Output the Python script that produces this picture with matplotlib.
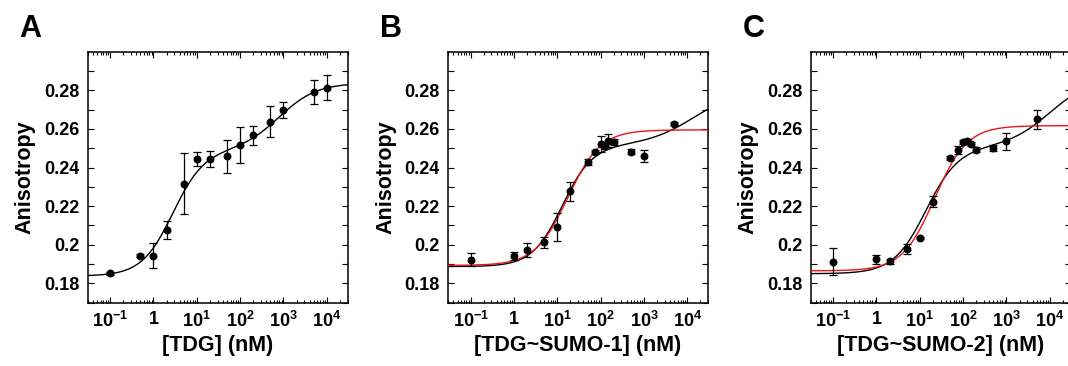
import numpy as np
import matplotlib
matplotlib.use("Agg")
import matplotlib.pyplot as plt
from matplotlib.ticker import FixedLocator, LogLocator, NullFormatter, FixedFormatter

plt.rcParams['font.family'] = ['Liberation Sans', 'DejaVu Sans']
plt.rcParams['font.weight'] = 'bold'
plt.rcParams['mathtext.fontset'] = 'custom'
plt.rcParams['mathtext.rm'] = 'Liberation Sans:bold'
plt.rcParams['mathtext.it'] = 'Liberation Sans:bold'
plt.rcParams['mathtext.bf'] = 'Liberation Sans:bold'

# Datos (concentracion en nM, anisotropia, error)
conc_a = [0.1, 0.5, 1, 2, 5, 10, 20, 50, 100, 200, 500, 1000, 5000, 10000]
aniso_a = [0.1852, 0.1943, 0.1943, 0.2076, 0.2317, 0.2445, 0.2445, 0.2459,
           0.2517, 0.2566, 0.2638, 0.2698, 0.2790, 0.2814]
err_a = [0.0006, 0.0008, 0.0065, 0.0048, 0.0157, 0.0035, 0.0040, 0.0086,
         0.0095, 0.0050, 0.0081, 0.0042, 0.0061, 0.0065]

conc_b = [0.1, 1, 2, 5, 10, 20, 50, 75, 100, 125, 150, 200, 500, 1000, 5000]
aniso_b = [0.1923, 0.1942, 0.1974, 0.2012, 0.2092, 0.2277, 0.2428, 0.2480,
           0.2523, 0.2514, 0.2540, 0.2531, 0.2483, 0.2461, 0.2628]
err_b = [0.0035, 0.0020, 0.0035, 0.0030, 0.0070, 0.0050, 0.0015, 0.0010,
         0.0040, 0.0020, 0.0035, 0.0015, 0.0012, 0.0030, 0.0008]

conc_c = [0.1, 1, 2, 5, 10, 20, 50, 75, 100, 125, 150, 200, 500, 1000, 5000]
aniso_c = [0.1912, 0.1924, 0.1914, 0.1978, 0.2035, 0.2224, 0.2450, 0.2492,
           0.2531, 0.2538, 0.2523, 0.2493, 0.2502, 0.2535, 0.2649]
err_c = [0.0070, 0.0025, 0.0012, 0.0025, 0.0005, 0.0030, 0.0012, 0.0020,
         0.0010, 0.0010, 0.0010, 0.0015, 0.0015, 0.0042, 0.0047]

# Parametros de ajuste: y0, A1, K1, n1, A2, K2, n2
ajuste_a_negro = [0.1838, 0.065, 2.8, 1.2, 0.035, 800, 1.0]
ajuste_b_negro = [0.1887, 0.0628, 13, 1.25, 0.0296, 15000, 0.8]
ajuste_b_rojo = [0.1893, 0.0702, 17.4, 1.15, 0.0, 1, 1.0]
ajuste_c_negro = [0.1850, 0.0655, 13.9, 1.157, 0.036, 10000, 0.9]
ajuste_c_rojo = [0.1865, 0.0752, 22, 1.16, 0.0, 1, 1.0]

etiquetas_x = ['[TDG] (nM)', '[TDG~SUMO-1] (nM)', '[TDG~SUMO-2] (nM)']
letras = ['A', 'B', 'C']

ticks_x = [0.1, 1, 10, 100, 1000, 10000]
etiquetas_ticks_x = ['$10^{-1}$', '$1$', '$10^{1}$', '$10^{2}$', '$10^{3}$', '$10^{4}$']
ticks_y = [0.18, 0.20, 0.22, 0.24, 0.26, 0.28]
etiquetas_ticks_y = ['0.18', '0.2', '0.22', '0.24', '0.26', '0.28']
ticks_y_menores = [0.17, 0.19, 0.21, 0.23, 0.25, 0.27, 0.29]


def curva(x, p):
    y0, a1, k1, n1, a2, k2, n2 = p
    return y0 + a1 * x**n1 / (k1**n1 + x**n1) + a2 * x**n2 / (k2**n2 + x**n2)


W, H = 1068, 366
fig = plt.figure(figsize=(W / 100, H / 100), dpi=100)

izquierdas = [87.5, 448, 810.5]
abajo, ancho, alto = 63.3, 260, 251

paneles = [
    (conc_a, aniso_a, err_a, ajuste_a_negro, None),
    (conc_b, aniso_b, err_b, ajuste_b_negro, ajuste_b_rojo),
    (conc_c, aniso_c, err_c, ajuste_c_negro, ajuste_c_rojo),
]

xs = np.logspace(-1.6, 4.6, 500)

for i, (conc, aniso, err, p_negro, p_rojo) in enumerate(paneles):
    ax = fig.add_axes([izquierdas[i] / W, abajo / H, ancho / W, alto / H])
    ax.set_xscale('log')

    ax.plot(xs, curva(xs, p_negro), color='black', lw=1.0, zorder=2)
    if p_rojo is not None:
        ax.plot(xs, curva(xs, p_rojo), color='#e8141b', lw=1.0, zorder=3)

    ax.errorbar(conc, aniso, yerr=err, fmt='o', color='black', ms=4.7,
                elinewidth=0.9, capsize=2.8, capthick=0.9, zorder=4)

    ax.set_xlim(0.03, 30000)
    ax.set_ylim(0.17, 0.30)

    ax.xaxis.set_major_locator(FixedLocator(ticks_x))
    ax.xaxis.set_major_formatter(FixedFormatter(etiquetas_ticks_x))
    ax.xaxis.set_minor_locator(LogLocator(base=10, subs=np.arange(2, 10), numticks=20))
    ax.xaxis.set_minor_formatter(NullFormatter())
    ax.yaxis.set_major_locator(FixedLocator(ticks_y))
    ax.yaxis.set_major_formatter(FixedFormatter(etiquetas_ticks_y))
    ax.yaxis.set_minor_locator(FixedLocator(ticks_y_menores))

    ax.tick_params(which='both', direction='in', top=True, right=True,
                   width=0.8, labelsize=13, pad=6)
    ax.tick_params(axis='x', which='major', length=4.5)
    ax.tick_params(axis='x', which='minor', length=2.5)
    ax.tick_params(axis='y', which='both', length=4)
    for lab in ax.get_xticklabels() + ax.get_yticklabels():
        lab.set_fontweight('bold')

    for s in ax.spines.values():
        s.set_linewidth(1.1)

    ax.set_xlabel(etiquetas_x[i], fontsize=15.5, fontweight='bold', labelpad=2.5)
    ax.set_ylabel('Anisotropy', fontsize=15.5, fontweight='bold', labelpad=6)

    fig.text((izquierdas[i] - 68) / W, 1 - 37 / H, letras[i], fontsize=22,
             fontweight='bold', va='baseline', ha='left')

fig.savefig('out.png', dpi=100)
